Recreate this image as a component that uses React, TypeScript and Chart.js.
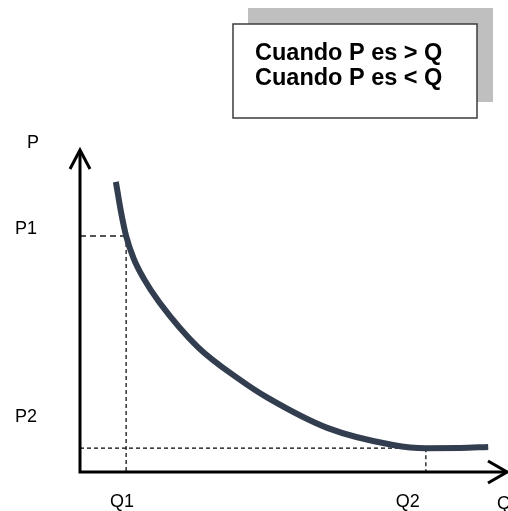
import React, { useEffect, useRef } from "react";
import { Chart, registerables } from "chart.js";

Chart.register(...registerables);

// Demand-style curve: quantity (x) against price (y), both on a 0–100 scale
const qValues = [8.4, 9.6, 10.8, 12.6, 15.0, 18.7, 27.6, 37.5, 44.0, 57.9, 73.3, 81.0, 89.0, 95.6];
const pValues = [90.1, 80.8, 73.3, 66.2, 59.9, 52.5, 38.8, 28.6, 23.0, 13.7, 8.4, 7.4, 7.45, 7.8];

// Marked points on the curve
const Q1 = 10.8;
const P1 = 73.3;
const Q2 = 81.0;
const P2 = 7.4;

const priceLabels = ["P1", "P2"];
const quantityLabels = ["Q1", "Q2"];
const axisTitles = ["P", "Q"];
const boxLines = ["Cuando P es > Q", "Cuando P es < Q"];

const LABEL_FONT = '18px "Liberation Sans", Arial, sans-serif';
const BOX_FONT = 'bold 23.5px "Liberation Sans", Arial, sans-serif';

const overlayPlugin = {
  id: "overlay",
  afterDraw(chart: any) {
    const { ctx, scales } = chart;
    const xs = scales.x;
    const ys = scales.y;
    const x0 = xs.getPixelForValue(0);
    const y0 = ys.getPixelForValue(0);
    const yTop = ys.getPixelForValue(100);
    const xRight = xs.getPixelForValue(100);

    ctx.save();
    // axes with open arrow heads
    ctx.strokeStyle = "#000";
    ctx.lineWidth = 3;
    ctx.lineCap = "butt";
    ctx.lineJoin = "miter";
    ctx.beginPath();
    ctx.moveTo(x0, y0 + 1.5);
    ctx.lineTo(x0, yTop + 2);
    ctx.moveTo(x0 - 1.5, y0);
    ctx.lineTo(xRight - 2, y0);
    ctx.stroke();
    ctx.beginPath();
    ctx.moveTo(x0 - 10, yTop + 19);
    ctx.lineTo(x0, yTop);
    ctx.lineTo(x0 + 10, yTop + 19);
    ctx.stroke();
    ctx.beginPath();
    ctx.moveTo(xRight - 19, y0 - 11);
    ctx.lineTo(xRight, y0);
    ctx.lineTo(xRight - 19, y0 + 11);
    ctx.stroke();

    // axis labels
    ctx.fillStyle = "#000";
    ctx.font = LABEL_FONT;
    ctx.textBaseline = "alphabetic";
    ctx.textAlign = "left";
    ctx.fillText(axisTitles[0], 27, yTop - 2);
    ctx.fillText(priceLabels[0], 15, ys.getPixelForValue(P1) - 2);
    ctx.fillText(priceLabels[1], 15, ys.getPixelForValue(P2) - 26);
    ctx.textAlign = "center";
    ctx.fillText(quantityLabels[0], xs.getPixelForValue(Q1) - 4, 507);
    ctx.fillText(quantityLabels[1], xs.getPixelForValue(Q2) - 18, 507);
    ctx.textAlign = "left";
    ctx.fillText(axisTitles[1], 497, 509);

    // note box with offset shadow
    ctx.fillStyle = "#bfbfbf";
    ctx.fillRect(248, 8, 245, 94);
    ctx.fillStyle = "#fff";
    ctx.fillRect(233, 24, 244, 94);
    ctx.strokeStyle = "#3c3c3c";
    ctx.lineWidth = 1.5;
    ctx.strokeRect(233, 24, 244, 94);
    ctx.fillStyle = "#000";
    ctx.font = BOX_FONT;
    ctx.textAlign = "left";
    ctx.fillText(boxLines[0], 255, 60);
    ctx.fillText(boxLines[1], 255, 85);
    ctx.restore();
  },
};

export default function App() {
  const canvasRef = useRef<HTMLCanvasElement | null>(null);

  useEffect(() => {
    const canvas = canvasRef.current;
    if (!canvas) return;
    const curve = qValues.map((q, i) => ({ x: q, y: pValues[i] }));
    const chart = new Chart(canvas, {
      type: "scatter",
      data: {
        datasets: [
          {
            data: curve,
            showLine: true,
            borderColor: "#323e4f",
            borderWidth: 6,
            borderCapStyle: "butt",
            cubicInterpolationMode: "monotone",
            pointRadius: 0,
            clip: false,
          },
          {
            data: [{ x: 0, y: P1 }, { x: Q1, y: P1 }],
            showLine: true,
            borderColor: "#555",
            borderWidth: 2,
            borderDash: [6, 4],
            pointRadius: 0,
          },
          {
            data: [{ x: Q1, y: P1 }, { x: Q1, y: 0 }],
            showLine: true,
            borderColor: "#000",
            borderWidth: 1.2,
            borderDash: [4, 3],
            pointRadius: 0,
          },
          {
            data: [{ x: 0, y: P2 }, { x: Q2, y: P2 }],
            showLine: true,
            borderColor: "#000",
            borderWidth: 1.2,
            borderDash: [4, 3],
            pointRadius: 0,
          },
          {
            data: [{ x: Q2, y: P2 }, { x: Q2, y: 0 }],
            showLine: true,
            borderColor: "#000",
            borderWidth: 1.2,
            borderDash: [4, 3],
            pointRadius: 0,
          },
        ],
      },
      options: {
        animation: false,
        responsive: false,
        devicePixelRatio: 1,
        layout: { padding: { left: 80, right: 1, top: 150, bottom: 39 } },
        scales: {
          x: { type: "linear", display: false, min: 0, max: 100 },
          y: { type: "linear", display: false, min: 0, max: 100 },
        },
        plugins: {
          legend: { display: false },
          tooltip: { enabled: false },
        },
      },
      plugins: [overlayPlugin],
    } as any);
    return () => chart.destroy();
  }, []);

  return (
    <div style={{ position: "fixed", left: 0, top: 0, width: 508, height: 511, background: "#fff" }}>
      <canvas ref={canvasRef} width={508} height={511} style={{ display: "block" }} />
    </div>
  );
}
